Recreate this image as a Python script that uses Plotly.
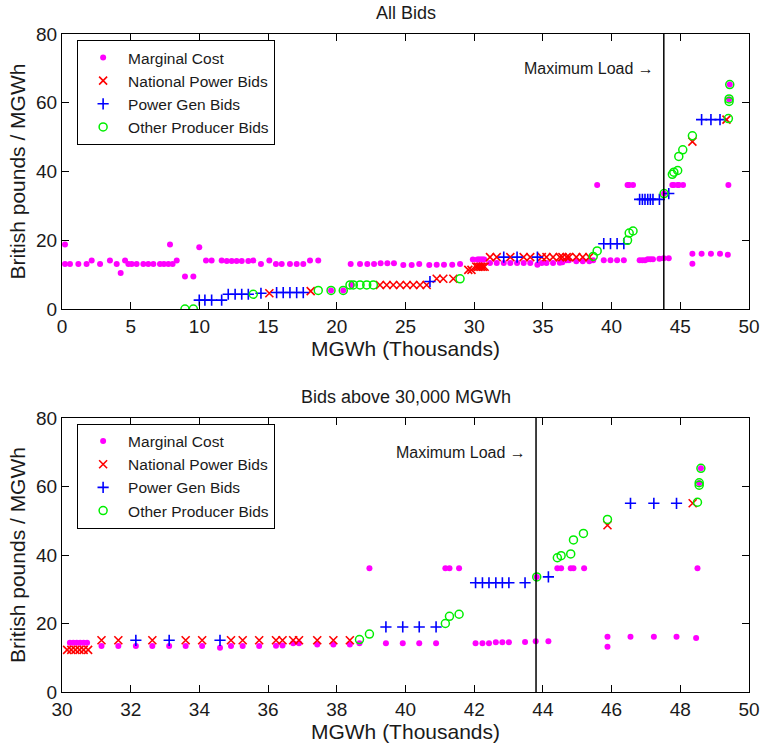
import plotly.graph_objects as go

# ---- data (x in thousand MGWh, y in British pounds / MGWh) ----
mc_x = [0.22, 0.22, 0.58, 1.19, 1.79, 2.16, 2.77, 3.49, 3.98, 4.27, 4.59, 4.83, 5.07, 5.43,
        5.92, 6.28, 6.65, 7.13, 7.42, 7.74, 7.86, 8.05, 8.35, 8.95, 9.56, 9.99, 10.48, 10.89,
        11.62, 11.99, 12.35, 12.71, 13.08, 13.56, 13.92, 14.48, 15.09, 15.57, 15.99, 16.59,
        17.08, 17.56, 18.05, 18.65, 19.58, 20.47, 21.08, 21.01, 21.69, 22.22, 22.71, 23.19,
        23.68, 24.16, 24.84, 25.45, 26.0, 26.73, 27.27, 27.8, 28.4, 28.97, 29.9,
        30.23, 30.33, 30.43, 30.53, 30.63, 30.73,
        31.15, 31.64, 32.15, 32.63, 33.12, 33.6, 34.08, 34.6, 34.92, 35.26, 35.74,
        36.23, 36.42, 36.73, 36.9, 37.43, 37.9, 38.38, 38.66, 38.95,
        39.43, 39.92, 40.4, 40.89, 41.16, 41.28, 41.56,
        42.04, 42.24, 42.43, 42.63, 42.82, 43.01, 43.48, 43.79, 43.82, 44.16,
        44.42, 44.53, 44.81, 44.89, 45.2, 45.88, 45.88, 46.55, 47.23, 47.89,
        48.46, 48.5, 48.55, 48.6]
mc_y = [18.8, 13.1, 13.1, 13.1, 13.1, 14.1, 13.1, 14.1, 13.1, 10.5, 14.1, 13.1, 13.1, 13.1,
        13.1, 13.1, 13.1, 13.1, 13.1, 13.1, 18.8, 13.1, 14.1, 9.5, 9.5, 18.0, 14.1, 14.1,
        14.1, 14.0, 14.0, 14.0, 14.0, 14.0, 14.1, 13.1, 14.1, 13.1, 13.1, 13.1,
        13.1, 13.1, 14.1, 14.1, 5.4, 5.4, 7.0, 13.1, 13.1, 13.1, 13.1, 13.3,
        13.3, 13.3, 12.8, 12.8, 13.1, 12.8, 12.9, 12.9, 12.9, 13.1, 14.4,
        14.4, 14.4, 14.4, 14.4, 14.4, 14.4,
        13.4, 13.4, 13.4, 13.4, 13.4, 13.4, 13.4, 12.9, 13.4, 13.4, 13.4,
        13.5, 13.6, 14.2, 14.2, 13.9, 13.9, 13.9, 14.2, 36.1,
        14.2, 14.2, 14.2, 14.2, 36.1, 36.1, 36.1,
        14.2, 14.2, 14.2, 14.5, 14.5, 14.5, 14.6, 14.8, 33.6, 14.8,
        36.1, 36.1, 36.1, 36.1, 36.1, 16.1, 13.2, 16.1, 16.1, 16.1,
        15.8, 36.1, 61.0, 65.3]

np_x = [15.09, 18.1, 23.14, 23.63, 24.11, 24.6, 25.09, 25.57, 26.06, 26.54,
        27.27, 27.75, 28.48, 29.57, 29.8,
        30.15, 30.27, 30.39, 30.51, 30.63, 30.76,
        31.15, 31.64, 32.63, 33.6, 34.08, 34.92, 35.26, 35.74, 36.23, 36.42,
        36.73, 36.9, 37.43, 37.9, 38.38, 45.88, 48.36]
np_y = [4.6, 5.2, 7.0, 7.0, 7.0, 7.0, 7.0, 7.0, 7.0, 7.0,
        8.8, 8.8, 8.8, 11.4, 11.4,
        12.3, 12.3, 12.3, 12.3, 12.3, 12.3,
        15.1, 15.1, 15.1, 15.1, 15.1, 15.1, 15.1, 15.1, 15.1, 15.1,
        15.1, 15.1, 15.1, 15.1, 15.1, 48.7, 55.1]

pg_x = [9.99, 10.4, 10.89, 11.62, 12.1, 12.6, 13.08, 13.56, 14.48,
        15.62, 16.1, 16.59, 17.08, 17.56, 26.78,
        32.15, 33.12, 34.6, 39.43, 39.92, 40.4, 40.89,
        42.04, 42.24, 42.43, 42.63, 42.82, 43.01, 43.48, 44.16,
        46.55, 47.23, 47.89]
pg_y = [2.6, 2.6, 2.6, 2.6, 4.3, 4.3, 4.3, 4.3, 4.6,
        4.8, 4.8, 4.8, 4.8, 4.8, 8.0,
        15.1, 15.1, 15.1, 19.0, 19.0, 19.0, 19.0,
        31.9, 31.9, 31.9, 31.9, 31.9, 31.9, 31.9, 33.6,
        55.1, 55.1, 55.1]

op_x = [8.95, 9.56, 13.92, 18.65, 19.58, 20.47, 20.96, 21.2, 21.69, 22.18, 22.66, 28.97,
        38.66, 38.95, 41.16, 41.28, 41.56, 43.82, 44.42, 44.53, 44.81, 44.89, 45.18,
        45.88, 48.5, 48.55, 48.55, 48.6]
op_y = [0.0, 0.0, 4.3, 5.4, 5.4, 5.4, 7.0, 7.0, 7.0, 7.0, 7.0, 8.8,
        15.3, 16.9, 20.0, 22.1, 22.7, 33.6, 39.2, 39.8, 40.3, 44.4, 46.3,
        50.4, 55.4, 60.4, 61.1, 65.3]

max_load = 43.8
series_names = ["Marginal Cost", "National Power Bids", "Power Gen Bids", "Other Producer Bids"]

FONT = "Liberation Sans, Arial, Helvetica, sans-serif"
TXT = "#1a1a1a"

styles = [
    dict(symbol="circle", size=6, color="#ff00ff"),
    dict(symbol="x-thin", size=8, color="rgba(0,0,0,0)", line=dict(color="#ff0000", width=1.6)),
    dict(symbol="cross-thin", size=8, color="rgba(0,0,0,0)", line=dict(color="#0000ff", width=1.6)),
    dict(symbol="circle-open", size=8, color="#00ee00", line=dict(color="#00ee00", width=1.5)),
]
xs = [mc_x, np_x, pg_x, op_x]
ys = [mc_y, np_y, pg_y, op_y]

fig = go.Figure()
for xa, ya, leg in [("x", "y", "legend"), ("x2", "y2", "legend2")]:
    for name, sx, sy, st in zip(series_names, xs, ys, styles):
        fig.add_trace(go.Scatter(
            x=sx, y=sy, mode="markers", name=name, marker=st,
            xaxis=xa, yaxis=ya, legend=leg, cliponaxis=True,
        ))

axis_common = dict(
    showline=True, linecolor="black", linewidth=1, mirror="ticks",
    ticks="inside", ticklen=7, tickcolor="black", showgrid=False, zeroline=False,
    automargin=False,
    tickfont=dict(family=FONT, size=19, color=TXT),
    title_font=dict(family=FONT, size=21, color=TXT),
)

top_dom = [0.582, 1.0]
bot_dom = [0.0, 0.4164]

legend_common = dict(xanchor="left", yanchor="top", bgcolor="white",
                     bordercolor="black", borderwidth=1,
                     font=dict(family=FONT, size=15.5, color=TXT), itemwidth=40)

fig.update_layout(
    width=762, height=743,
    margin=dict(l=62, r=13, t=34, b=51, autoexpand=False),
    paper_bgcolor="white", plot_bgcolor="white",
    font=dict(family=FONT, color=TXT),
    xaxis=dict(domain=[0, 1], range=[0, 50], dtick=5, anchor="y",
               title=dict(text="MGWh (Thousands)", standoff=0), **axis_common),
    yaxis=dict(domain=top_dom, range=[0, 80], dtick=20, anchor="x",
               title=dict(text="British pounds / MGWh", standoff=4), **axis_common),
    xaxis2=dict(domain=[0, 1], range=[30, 50], dtick=2, anchor="y2",
                title=dict(text="MGWh (Thousands)", standoff=0), **axis_common),
    yaxis2=dict(domain=bot_dom, range=[0, 80], dtick=20, anchor="x2",
                title=dict(text="British pounds / MGWh", standoff=4), **axis_common),
    legend=dict(x=0.022, y=0.991, **legend_common),
    legend2=dict(x=0.022, y=0.408, **legend_common),
    showlegend=True,
)

# Maximum load marker on both panels
for xa, ya in [("x", "y"), ("x2", "y2")]:
    fig.add_shape(type="line", xref=xa, yref=f"{ya} domain", x0=max_load, x1=max_load,
                  y0=0, y1=1, line=dict(color="black", width=1.5))
    fig.add_annotation(xref=xa, yref=ya, x=max_load, y=70, xanchor="right", yanchor="middle",
                       xshift=-8, text="Maximum Load \u2192", showarrow=False,
                       font=dict(family=FONT, size=16, color=TXT))

# Panel titles
fig.add_annotation(xref="paper", yref="paper", x=0.5, y=top_dom[1], yanchor="bottom",
                   yshift=9, text="All Bids", showarrow=False,
                   font=dict(family=FONT, size=18, color=TXT))
fig.add_annotation(xref="paper", yref="paper", x=0.5, y=bot_dom[1], yanchor="bottom",
                   yshift=9, text="Bids above 30,000 MGWh", showarrow=False,
                   font=dict(family=FONT, size=18, color=TXT))

fig.write_html("out.html")
